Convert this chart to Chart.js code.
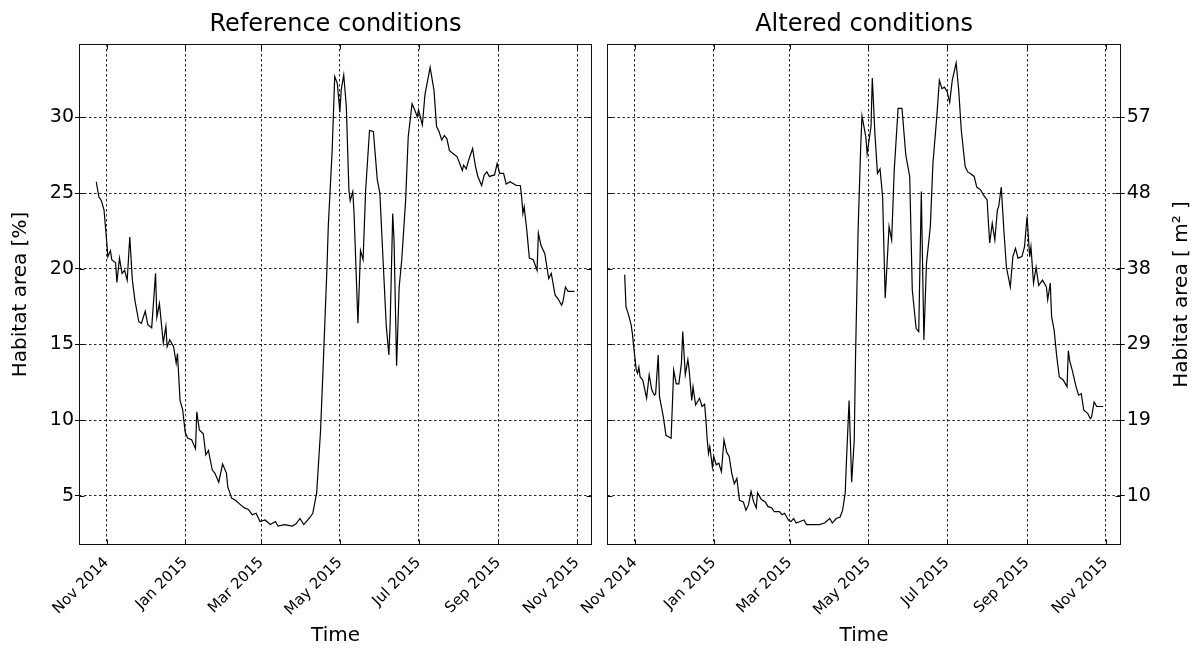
<!DOCTYPE html>
<html><head><meta charset="utf-8">
<script src="https://cdn.jsdelivr.net/npm/chart.js@4.4.0/dist/chart.umd.min.js"></script>
<style>
html,body{margin:0;padding:0;background:#fff;}
#wrap{position:relative;width:1196px;height:653px;overflow:hidden;background:#fff;}
canvas{position:absolute;top:0;}
</style></head><body>
<div id="wrap">
<canvas id="c1" width="598" height="653" style="left:0"></canvas>
<canvas id="c2" width="676" height="653" style="left:520px"></canvas>
</div>
<script>
// ---- data (x = days since 2014-11-01, y = habitat area in %) ----
const tickDays = [0, 61, 120, 181, 242, 304, 365];
const tickLabels = ['Nov 2014','Jan 2015','Mar 2015','May 2015','Jul 2015','Sep 2015','Nov 2015'];
const yTicks = [5, 10, 15, 20, 25, 30];
const rightTickLabels = ['10','19','29','38','48','57'];

const leftDays = [-8,-6,-4,-2,0,1,3,4,7,8,10,12,14,16,18,20,22,25,27,30,32,35,38,39,41,44,46,47,49,52,54,55,57,59,61,63,66,69,70,72,75,77,79,82,84,87,90,93,94,97,100,104,107,110,113,116,119,123,127,131,133,138,144,147,150,153,155,158,160,163,166,168,171,172,175,177,179,181,182,184,186,188,189,191,192,195,197,199,201,204,207,210,212,215,217,219,220,222,223,225,227,229,232,234,237,239,241,242,245,247,251,254,256,258,260,262,264,266,269,272,276,277,279,281,284,286,288,291,293,295,297,301,303,305,308,310,313,316,318,321,322,323,324,326,328,331,334,335,337,340,343,345,348,350,353,354,356,358,363];
const leftValues = [25.75,24.75,24.5,23.9,21.9,20.8,21.2,20.6,20.4,19.1,20.7,19.7,19.9,19.25,22.1,19.25,17.9,16.5,16.4,17.2,16.3,16.1,19.7,16.8,17.7,15.1,16.2,14.85,15.3,14.85,13.75,14.4,11.3,10.7,9.2,8.8,8.7,8.1,10.55,9.35,9.1,7.7,8.0,6.7,6.5,5.9,7.1,6.5,5.6,4.85,4.7,4.4,4.2,4.1,3.75,3.85,3.3,3.4,3.1,3.3,3.0,3.1,3.0,3.15,3.5,3.1,3.3,3.6,3.85,5.2,9.3,13.5,20.1,22.8,27.8,32.7,32.25,30.35,31.8,32.8,30.7,25.2,24.5,25.1,23.65,16.4,21.2,20.6,25.2,29.15,29.05,25.9,25.0,19.7,16.2,14.3,16.4,23.65,21.9,13.6,18.8,20.6,24.5,28.7,30.9,30.5,30.05,30.5,29.5,31.5,33.3,31.8,29.4,29.05,28.5,28.8,28.6,27.8,27.6,27.4,26.5,26.85,26.6,27.2,27.95,26.85,26.1,25.5,26.2,26.4,26.1,26.2,26.95,26.3,26.3,25.6,25.75,25.6,25.5,25.5,24.75,23.65,24.1,22.55,20.7,20.6,19.9,22.35,21.55,21.0,19.35,19.7,18.25,18.05,17.6,17.8,18.8,18.5,18.5];

const rightDays = [-8,-7,-5,-3,-2,-1,1,2,3,4,6,9,11,13,15,16,18,19,22,24,26,28,30,32,34,36,37,39,41,42,44,45,47,50,52,54,55,56,57,58,60,61,63,65,67,69,71,73,75,77,79,81,84,86,88,90,92,94,95,98,101,103,106,108,112,114,116,119,121,123,125,128,131,133,138,143,147,151,153,156,159,161,163,164,166,168,170,171,173,175,176,179,180,183,184,186,188,190,192,194,197,199,201,204,207,210,213,215,218,220,222,224,226,229,231,234,236,238,240,242,244,246,249,251,253,256,258,260,263,265,268,270,273,275,277,279,281,282,284,286,288,291,293,295,297,300,302,304,306,307,309,311,313,316,319,320,322,323,325,327,329,332,335,336,337,339,342,344,346,348,351,353,354,356,358,363];
const rightValues = [19.6,17.5,16.95,16.3,15.7,14.85,13.3,13.1,13.5,12.85,12.65,11.45,13.0,12.0,11.65,11.75,14.3,11.55,10.2,9.0,8.9,8.8,13.3,12.4,12.4,13.75,15.85,13.0,14.0,13.3,11.3,12.2,11.0,11.45,10.9,11.05,10.0,8.7,7.8,8.25,6.9,7.6,7.05,7.15,6.6,8.7,7.9,7.6,6.5,5.8,6.15,4.7,4.6,4.05,4.4,5.3,4.6,4.2,5.2,4.75,4.6,4.3,4.2,3.95,3.95,3.75,3.85,3.4,3.3,3.5,3.2,3.3,3.4,3.1,3.1,3.1,3.2,3.5,3.2,3.5,3.6,4.05,5.2,7.4,11.3,5.9,8.7,14.2,22.6,28.05,30.1,28.7,27.6,29.4,32.6,28.95,26.3,26.6,24.75,18.05,22.8,21.9,26.5,30.6,30.6,27.5,26.1,18.6,16.05,15.85,25.1,15.3,20.35,22.8,26.95,30.05,32.45,31.9,32.0,31.7,31.0,32.45,33.6,31.8,29.15,26.75,26.4,26.3,26.1,25.4,25.2,24.9,24.55,21.7,23.0,21.9,23.9,24.1,25.4,22.55,20.1,18.8,20.8,21.35,20.7,20.8,21.45,23.45,20.8,21.45,19.05,20.1,18.9,19.25,18.8,17.95,19.05,16.85,15.95,14.2,12.85,12.65,12.2,14.6,13.95,13.3,12.2,11.65,11.75,10.65,10.45,10.1,10.2,11.2,10.9,10.9];

// ---- axis ranges ----
const xMin = -21.4, xMax = 376.6;
const yMin = 1.75, yMax = 34.85;

Chart.defaults.font.family = "'DejaVu Sans', sans-serif";
Chart.defaults.color = '#000';
Chart.defaults.animation = false;

const GRID = '#222';
const DASH = [2.5, 2.5];

const boxPlugin = {
  id: 'box',
  afterDatasetsDraw(chart) {
    const {ctx, chartArea: a, scales} = chart;
    const L = Math.round(a.left) + 0.5, R = Math.round(a.right) - 0.5;
    const T = Math.round(a.top) + 0.5, B = Math.round(a.bottom) - 0.5;
    ctx.save();
    ctx.strokeStyle = '#111';
    ctx.lineWidth = 1;
    ctx.setLineDash([]);
    ctx.strokeRect(L, T, R - L, B - T);
    ctx.beginPath();
    const yScale = scales.y;
    tickDays.forEach(d => {
      const px = Math.round(scales.x.getPixelForValue(d)) + 0.5;
      ctx.moveTo(px, T); ctx.lineTo(px, T + 5);
      ctx.moveTo(px, B); ctx.lineTo(px, B - 5);
    });
    yTicks.forEach(v => {
      const py = Math.round(yScale.getPixelForValue(v)) + 0.5;
      ctx.moveTo(L, py); ctx.lineTo(L + 5, py);
      ctx.moveTo(R, py); ctx.lineTo(R - 5, py);
    });
    ctx.stroke();
    ctx.restore();
  }
};

function xScale() {
  return {
    type: 'linear', min: xMin, max: xMax,
    afterBuildTicks: s => { s.ticks = tickDays.map(v => ({value: v})); },
    afterFit: s => { s.height = 108; s.paddingLeft = 0; s.paddingRight = 0; },
    ticks: {autoSkip: false, maxRotation: 45, minRotation: 45, font: {size: 15}, color: '#000', padding: 9,
            callback: (v, i) => tickLabels[i]},
    grid: {color: GRID, lineWidth: 1, drawTicks: false},
    border: {display: false, dash: DASH},
    title: {display: true, text: 'Time', font: {size: 20}, color: '#000', padding: {top: 0, bottom: 5}}
  };
}

function lineDataset(days, values) {
  return {
    data: days.map((d, i) => ({x: d, y: values[i]})),
    borderColor: '#000', borderWidth: 1.2, pointRadius: 0, tension: 0, fill: false
  };
}

const titleOpts = text => ({display: true, text, fullSize: false, font: {size: 24, weight: 'normal'}, color: '#000', padding: {top: 10.5, bottom: 4.7}});

new Chart(document.getElementById('c1'), {
  type: 'line',
  data: {datasets: [lineDataset(leftDays, leftValues)]},
  options: {
    responsive: false, devicePixelRatio: 1, animation: false,
    layout: {padding: {left: 0, right: 6, top: 0, bottom: 0}},
    plugins: {
      legend: {display: false}, tooltip: {enabled: false},
      title: titleOpts('Reference conditions')
    },
    scales: {
      x: xScale(),
      y: {
        type: 'linear', position: 'left', min: yMin, max: yMax,
        afterBuildTicks: s => { s.ticks = yTicks.map(v => ({value: v})); },
        afterFit: s => { s.width = 79; s.paddingTop = 0; s.paddingBottom = 0; },
        ticks: {font: {size: 19}, color: '#000', padding: 1},
        grid: {color: GRID, lineWidth: 1, drawTicks: true, tickLength: 4, tickColor: '#000', tickWidth: 1},
        border: {display: false, dash: DASH},
        title: {display: true, text: 'Habitat area [%]', font: {size: 20}, color: '#000', padding: {top: 9, bottom: 0}}
      }
    }
  },
  plugins: [boxPlugin]
});

const RIGHT_CANVAS_LEFT = 520;
const rightTitlePlugin = {
  id: 'rightTitle',
  afterDraw(chart) {
    const {ctx, chartArea: a} = chart;
    ctx.save();
    ctx.translate(1182 - RIGHT_CANVAS_LEFT, (a.top + a.bottom) / 2);
    ctx.rotate(-Math.PI / 2);
    ctx.font = "20px 'DejaVu Sans', sans-serif";
    ctx.fillStyle = '#000';
    ctx.textAlign = 'center';
    ctx.textBaseline = 'middle';
    ctx.fillText('Habitat area [ m\u00B2 ]', 0, 0);
    ctx.restore();
  }
};

new Chart(document.getElementById('c2'), {
  type: 'line',
  data: {datasets: [lineDataset(rightDays, rightValues)]},
  options: {
    responsive: false, devicePixelRatio: 1, animation: false,
    layout: {padding: {left: 607.4 - RIGHT_CANVAS_LEFT, right: 0, top: 0, bottom: 0}},
    plugins: {
      legend: {display: false}, tooltip: {enabled: false},
      title: titleOpts('Altered conditions')
    },
    scales: {
      x: xScale(),
      y: {
        type: 'linear', position: 'right', min: yMin, max: yMax,
        afterBuildTicks: s => { s.ticks = yTicks.map(v => ({value: v})); },
        afterFit: s => { s.width = 75.3; s.paddingTop = 0; s.paddingBottom = 0; },
        ticks: {font: {size: 19}, color: '#000', padding: 2, callback: (v, i) => rightTickLabels[i]},
        grid: {color: GRID, lineWidth: 1, drawTicks: true, tickLength: 4, tickColor: '#000', tickWidth: 1},
        border: {display: false, dash: DASH}
      }
    }
  },
  plugins: [boxPlugin, rightTitlePlugin]
});
</script>
</body></html>
